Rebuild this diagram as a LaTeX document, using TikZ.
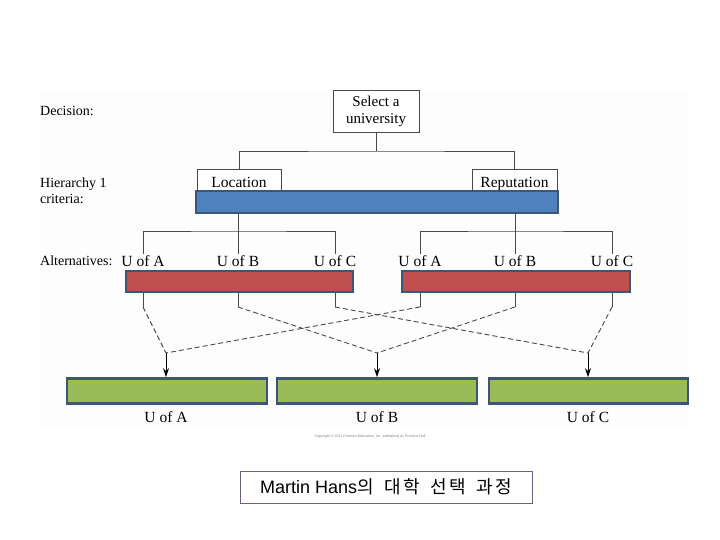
\documentclass[tikz,border=0pt]{standalone}
\usepackage{fontspec}
\setmainfont{Liberation Serif}
\setsansfont{Liberation Sans}
\newfontfamily\krfont{Noto Sans CJK KR}
\usetikzlibrary{arrows.meta}
\definecolor{barblue}{HTML}{4F81BD}
\definecolor{barred}{HTML}{C0504D}
\definecolor{bargreen}{HTML}{9BBB59}
\definecolor{barline}{HTML}{3D5677}
\definecolor{linegray}{HTML}{4A4A4A}
\definecolor{capline}{HTML}{6E5F80}
\definecolor{figbg}{HTML}{FDFDFD}
\tikzset{
  lbl/.style={anchor=west, inner sep=0pt, align=left, font=\fontsize{14}{16}\selectfont},
  boxtxt/.style={draw=linegray, line width=0.8pt, fill=white, inner sep=0pt, align=center, font=\fontsize{15}{17}\selectfont},
  crit/.style={boxtxt, font=\fontsize{15.5}{17}\selectfont, text height=11pt, text depth=3.5pt},
  alt/.style={inner sep=1pt, font=\fontsize{15.5}{17}\selectfont, text height=11pt, text depth=0pt},
  bar/.style={draw=barline, line width=2.6pt, inner sep=0pt},
  conn/.style={draw=linegray, line width=0.9pt},
  dashconn/.style={conn, dash pattern=on 5pt off 3pt},
  arr/.style={conn, draw=black, -{Stealth[length=9pt,width=6pt]}}
}
\begin{document}
\begin{tikzpicture}[x=1pt,y=-1pt]
\useasboundingbox (0,0) rectangle (720,540);
\fill[figbg] (40,90) rectangle (688,426);

% left labels
\node[lbl] (ldec) at (40,111) {Decision:};
\node[lbl] (lhier) at (40,191) {Hierarchy 1\\criteria:};
\node[lbl] (lalt) at (40,261) {Alternatives:};

% top decision box
\node[boxtxt, minimum width=86pt, minimum height=42pt] (sel) at (376,111) {Select a\\university};

% criteria boxes
\node[crit, minimum width=84pt, minimum height=30pt] (loc) at (239,184) {Location};
\node[crit, minimum width=85pt, minimum height=30pt] (rep) at (514.5,184) {Reputation};
\node[bar, fill=barblue, minimum width=362pt, minimum height=22pt] (bb) at (377,202) {};

\coordinate (j1) at (376,151);
\draw[conn] (sel.south) -- (j1);
\draw[conn] (loc.north) |- (j1) -| (rep.north);

% alternatives text
\node[alt] (la) at (143,261) {U of A};
\node[alt] (lb) at (238,261) {U of B};
\node[alt] (lc) at (335,261) {U of C};
\node[alt] (ra) at (420,261) {U of A};
\node[alt] (rb) at (515,261) {U of B};
\node[alt] (rc) at (612,261) {U of C};

\coordinate (lj) at (238,231);
\coordinate (rj) at (515,231);
\draw[conn] (bb.south -| lj) -- (lb.north);
\draw[conn] (la.north) |- (lj) -| (lc.north);
\draw[conn] (bb.south -| rj) -- (rb.north);
\draw[conn] (ra.north) |- (rj) -| (rc.north);

% red bars
\node[bar, fill=barred, minimum width=227pt, minimum height=21pt] (lr) at (239.5,281.5) {};
\node[bar, fill=barred, minimum width=228pt, minimum height=21pt] (rr) at (516,281.5) {};

% green boxes
\node[bar, fill=bargreen, minimum width=200pt, minimum height=25pt] (ga) at (167,391) {};
\node[bar, fill=bargreen, minimum width=200pt, minimum height=25pt] (gb) at (377,391) {};
\node[bar, fill=bargreen, minimum width=199pt, minimum height=25pt] (gc) at (588.5,391) {};

% kinks and stub ends
\coordinate (ka) at (166,353);
\coordinate (kb) at (377,353);
\coordinate (kc) at (588,353);
\coordinate (sla) at (143,307);
\coordinate (slb) at (238,307);
\coordinate (slc) at (335,307);
\coordinate (sra) at (420,307);
\coordinate (srb) at (515,307);
\coordinate (src) at (612,307);

\draw[conn] (lr.south -| sla) -- (sla);
\draw[conn] (lr.south -| slb) -- (slb);
\draw[conn] (lr.south -| slc) -- (slc);
\draw[conn] (rr.south -| sra) -- (sra);
\draw[conn] (rr.south -| srb) -- (srb);
\draw[conn] (rr.south -| src) -- (src);

\draw[dashconn] (sla) -- (ka);
\draw[dashconn] (slb) -- (kb);
\draw[dashconn] (slc) -- (kc);
\draw[dashconn] (sra) -- (ka);
\draw[dashconn] (srb) -- (kb);
\draw[dashconn] (src) -- (kc);

\draw[arr] (ka) -- (ga.north -| ka);
\draw[arr] (kb) -- (gb.north -| kb);
\draw[arr] (kc) -- (gc.north -| kc);

% bottom labels
\node[alt] (ba) at (166,417) {U of A};
\node[alt] (bbl) at (377,417) {U of B};
\node[alt] (bc) at (588,417) {U of C};

% copyright
\node[inner sep=0pt, text=gray, font=\sffamily\fontsize{3.6}{4}\selectfont] (copy) at (370,437) {Copyright \copyright\ 2011 Pearson Education, Inc. publishing as Prentice Hall};

% caption
\node[draw=capline, line width=0.8pt, minimum width=292pt, minimum height=32pt, inner sep=0pt] (cap) at (386,487)
  {\sffamily\fontsize{18}{20}\selectfont Martin Hans{\krfont 의\hspace{11pt}대\kern2pt 학\hspace{11pt}선\kern2pt 택\hspace{11pt}과\kern2pt 정}};
\end{tikzpicture}
\end{document}
